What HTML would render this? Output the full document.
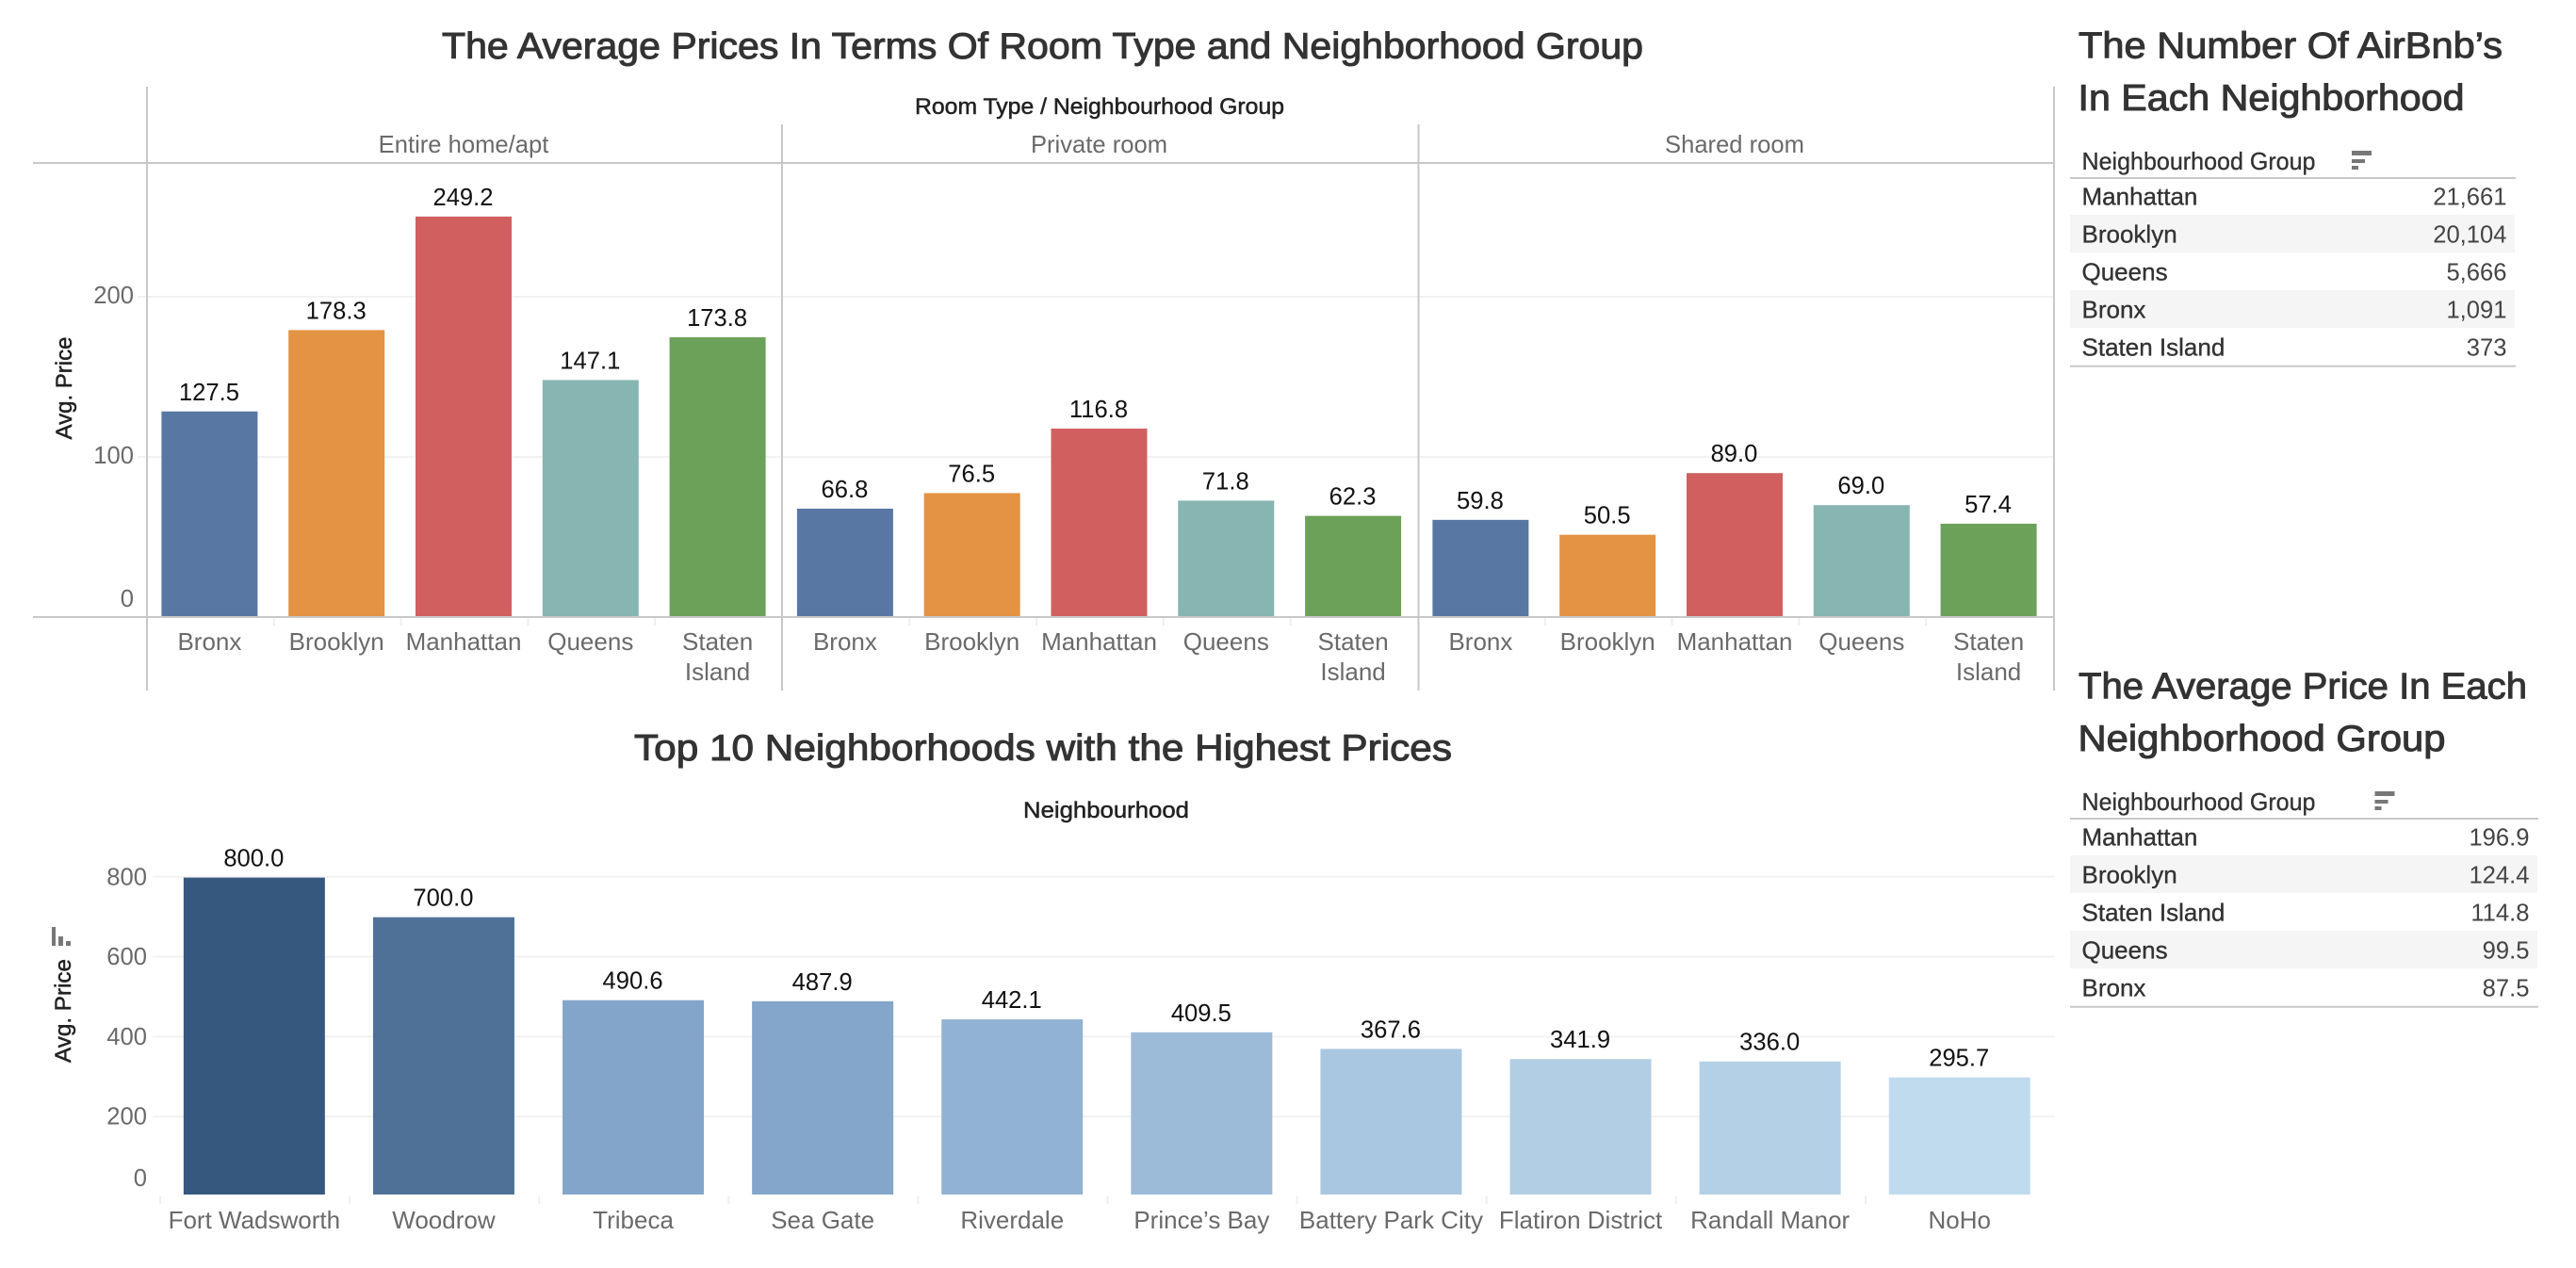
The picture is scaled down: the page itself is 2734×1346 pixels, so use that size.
<!DOCTYPE html>
<html lang="en">
<head>
<meta charset="utf-8">
<title>AirBnb NYC Dashboard</title>
<style>
html,body{margin:0;padding:0;background:#fff;width:2734px;height:1346px;overflow:hidden}
svg{display:block}
text{font-family:"Liberation Sans",sans-serif}
.title{fill:#333;stroke:#333;stroke-width:1px;font-size:39px}
.semi{fill:#222;stroke:#222;stroke-width:.5px;font-size:24px}
</style>
</head>
<body>
<svg id="dash" xmlns="http://www.w3.org/2000/svg" width="2734" height="1346" viewBox="0 0 2734 1346">
  <text class="title" x="1106.5" y="62" text-anchor="middle" textLength="1275" lengthAdjust="spacingAndGlyphs">The Average Prices In Terms Of Room Type and Neighborhood Group</text>
  <text class="semi" x="1167" y="121" text-anchor="middle" textLength="392" lengthAdjust="spacingAndGlyphs">Room Type / Neighbourhood Group</text>
  <text class="semi" transform="translate(76,412) rotate(-90)" text-anchor="middle" textLength="109" lengthAdjust="spacingAndGlyphs">Avg. Price</text>

  <text class="title" x="1107" y="807" text-anchor="middle" textLength="868" lengthAdjust="spacingAndGlyphs">Top 10 Neighborhoods with the Highest Prices</text>
  <text class="semi" x="1174" y="868" text-anchor="middle" textLength="176" lengthAdjust="spacingAndGlyphs">Neighbourhood</text>
  <text class="semi" transform="translate(75,1073) rotate(-90)" text-anchor="middle" textLength="110" lengthAdjust="spacingAndGlyphs">Avg. Price</text>
  <g fill="#777">
    <rect x="55" y="984" width="4" height="20"/>
    <rect x="62" y="994" width="5" height="10"/>
    <rect x="70" y="999" width="5" height="5"/>
  </g>

  <text class="title" x="2206" y="61.5" textLength="450" lengthAdjust="spacingAndGlyphs">The Number Of AirBnb’s</text>
  <text class="title" x="2205.5" y="117" textLength="410" lengthAdjust="spacingAndGlyphs">In Each Neighborhood</text>
  <text class="title" x="2206" y="741.5" textLength="476" lengthAdjust="spacingAndGlyphs">The Average Price In Each</text>
  <text class="title" x="2205.5" y="797" textLength="390" lengthAdjust="spacingAndGlyphs">Neighborhood Group</text>
</svg>

<script>
const roomTypes = ['Entire home/apt', 'Private room', 'Shared room'];
const groups = ['Bronx', 'Brooklyn', 'Manhattan', 'Queens', 'Staten Island'];
const entireHomeValues = [127.5, 178.3, 249.2, 147.1, 173.8];
const privateRoomValues = [66.8, 76.5, 116.8, 71.8, 62.3];
const sharedRoomValues = [59.8, 50.5, 89.0, 69.0, 57.4];
const groupColors = ['#5877a3', '#e39343', '#d15f5f', '#87b5b1', '#6ba158'];
const roomTicks = [0, 100, 200];

const neighborhoods = ['Fort Wadsworth', 'Woodrow', 'Tribeca', 'Sea Gate', 'Riverdale', 'Prince’s Bay', 'Battery Park City', 'Flatiron District', 'Randall Manor', 'NoHo'];
const neighborhoodValues = [800.0, 700.0, 490.6, 487.9, 442.1, 409.5, 367.6, 341.9, 336.0, 295.7];
const neighborhoodTicks = [0, 200, 400, 600, 800];

const countGroups = ['Manhattan', 'Brooklyn', 'Queens', 'Bronx', 'Staten Island'];
const countValues = ['21,661', '20,104', '5,666', '1,091', '373'];
const priceGroups = ['Manhattan', 'Brooklyn', 'Staten Island', 'Queens', 'Bronx'];
const priceValues = ['196.9', '124.4', '114.8', '99.5', '87.5'];

const svg = document.getElementById('dash');
const NS = 'http://www.w3.org/2000/svg';
function mk(tag, attrs, txt) {
  const n = document.createElementNS(NS, tag);
  for (const k in attrs) n.setAttribute(k, attrs[k]);
  if (txt !== undefined) n.textContent = txt;
  svg.appendChild(n);
  return n;
}
let el;

/* ---------- top chart ---------- */
const paneLefts = [156, 830.5, 1505];
const catW = 134.8, barW = 102;
const yTop = v => 655 - v * 1.7;
const yTopBar = v => 653.5 - v * 1.7;
const roomSeries = [entireHomeValues, privateRoomValues, sharedRoomValues];
const catX = (p, i) => paneLefts[p] + (i + 0.5) * catW - 1;

roomTicks.forEach(t => {
  if (t !== 0) {
    el = mk('line', {x1: 146, x2: 2180, y1: yTop(t), y2: yTop(t), stroke: '#f2f2f2', 'stroke-width': 2});
    
    
  }
  el = mk('text', {x: 142, y: yTop(t) + (t === 0 ? -11 : 7), 'text-anchor': 'end', 'font-size': 25.6, fill: '#6a6a6a'}, String(t));
  
  
});

roomSeries.forEach((vals, p) => {
  el = mk('text', {x: paneLefts[p] + 337 - 1, y: 162, 'text-anchor': 'middle', 'font-size': 25.6, fill: '#6a6a6a'}, roomTypes[p]);
  
  
  vals.forEach((v, i) => {
    const cx = catX(p, i);
    el = mk('rect', {x: cx - barW / 2, y: yTopBar(v), width: barW, height: 654 - yTopBar(v), fill: groupColors[i]});
    
    
    el = mk('text', {x: cx - 0.5, y: yTopBar(v) - 12, 'text-anchor': 'middle', 'font-size': 25.6, fill: '#111'}, v.toFixed(1));
    
    
    const words = groups[i].split(' ');
    words.forEach((w, k) => {
      el = mk('text', {x: cx, y: 690 + k * 32, 'text-anchor': 'middle', 'font-size': 26, fill: '#6a6a6a'}, w);
      
      
    });
    if (i > 0) {
      const tx = paneLefts[p] + i * catW;
      el = mk('line', {x1: tx, x2: tx, y1: 656, y2: 664, stroke: '#efefef', 'stroke-width': 2});
      
      
    }
  });
});

el = mk('line', {x1: 35, x2: 2180, y1: 173, y2: 173, stroke: '#c8c8c8', 'stroke-width': 2});


el = mk('line', {x1: 35, x2: 2180, y1: 655, y2: 655, stroke: '#c8c8c8', 'stroke-width': 2});


[[156, 92], [830, 132], [1505.5, 132], [2180, 92]].forEach(d => {
  el = mk('line', {x1: d[0], x2: d[0], y1: d[1], y2: 733, stroke: '#c8c8c8', 'stroke-width': 2});
  
  
});

/* ---------- bottom chart ---------- */
const yBot = v => 1268 - v * 0.4205;
const yBotGrid = v => 1270 - v * 0.424;
const botLeft = 170, botStep = 201.1, botBar = 150;
const hex = c => [1, 3, 5].map(i => parseInt(c.substr(i, 2), 16));
function shade(v) {
  const a = v > 490 ? hex('#83a5ca') : hex('#c0dbee');
  const b = v > 490 ? hex('#36587f') : hex('#83a5ca');
  const t = v > 490 ? (v - 490) / 310 : (v - 295.7) / 194.3;
  const m = a.map((x, i) => Math.round(x + (b[i] - x) * Math.min(1, Math.max(0, t))));
  return 'rgb(' + m.join(',') + ')';
}
neighborhoodTicks.forEach(t => {
  if (t !== 0) {
    el = mk('line', {x1: 162, x2: 2181, y1: yBotGrid(t), y2: yBotGrid(t), stroke: '#f2f2f2', 'stroke-width': 2});
    
    
  }
  el = mk('text', {x: 156, y: yBotGrid(t) + (t === 0 ? -11 : 8.5), 'text-anchor': 'end', 'font-size': 25.6, fill: '#6a6a6a'}, String(t));
  
  
});
neighborhoods.forEach((name, i) => {
  const cx = botLeft + (i + 0.5) * botStep - 0.7;
  const v = neighborhoodValues[i];
  el = mk('rect', {x: cx - botBar / 2, y: yBot(v), width: botBar, height: 1268 - yBot(v), fill: shade(v)});
  
  
  el = mk('text', {x: cx - 0.5, y: yBot(v) - 12, 'text-anchor': 'middle', 'font-size': 25.6, fill: '#111'}, v.toFixed(1));
  
  
  el = mk('text', {x: cx, y: 1304, 'text-anchor': 'middle', 'font-size': 26, fill: '#6a6a6a'}, name);
  
  
  el = mk('line', {x1: botLeft + i * botStep, x2: botLeft + i * botStep, y1: 1270, y2: 1278, stroke: '#efefef', 'stroke-width': 2});
  
  
});

/* ---------- tables ---------- */
function table(key, top, right, iconX, names, vals) {
  const rowTop = top - 1;
  names.forEach((n, i) => {
    if (i % 2 === 1) {
      el = mk('rect', {x: 2197, y: rowTop + i * 40, width: right - 2197, height: 40, fill: '#f5f5f5'});
      
      
    }
    const by = rowTop + i * 40 + 29.7;
    el = mk('text', {x: 2209.5, y: by, 'font-size': 26, fill: '#333', stroke: '#333', 'stroke-width': 0.35}, n);
    
    
    el = mk('text', {x: right - 8.5, y: by, 'text-anchor': 'end', 'font-size': 25.6, fill: '#444'}, vals[i]);
    
    
  });
  el = mk('text', {x: 2209.5, y: top - 9, 'font-size': 25.6, fill: '#333', stroke: '#333', 'stroke-width': 0.35, textLength: 248, lengthAdjust: 'spacingAndGlyphs'}, 'Neighbourhood Group');
  
  
  [[0, 21, 5], [9, 14, 4], [16, 7, 4]].forEach(b => {
    el = mk('rect', {x: iconX, y: top - 29 + b[0], width: b[1], height: b[2], fill: '#777'});
    
    
  });
  el = mk('line', {x1: 2197, x2: right + 1, y1: top, y2: top, stroke: '#c8c8c8', 'stroke-width': 2});
  
  
  el = mk('line', {x1: 2197, x2: right + 1, y1: top + 199.7, y2: top + 199.7, stroke: '#c8c8c8', 'stroke-width': 2});
  
  
}
table('count-table', 189, 2669, 2496, countGroups, countValues);
table('price-table', 869, 2693, 2520.5, priceGroups, priceValues);
</script>
</body>
</html>
